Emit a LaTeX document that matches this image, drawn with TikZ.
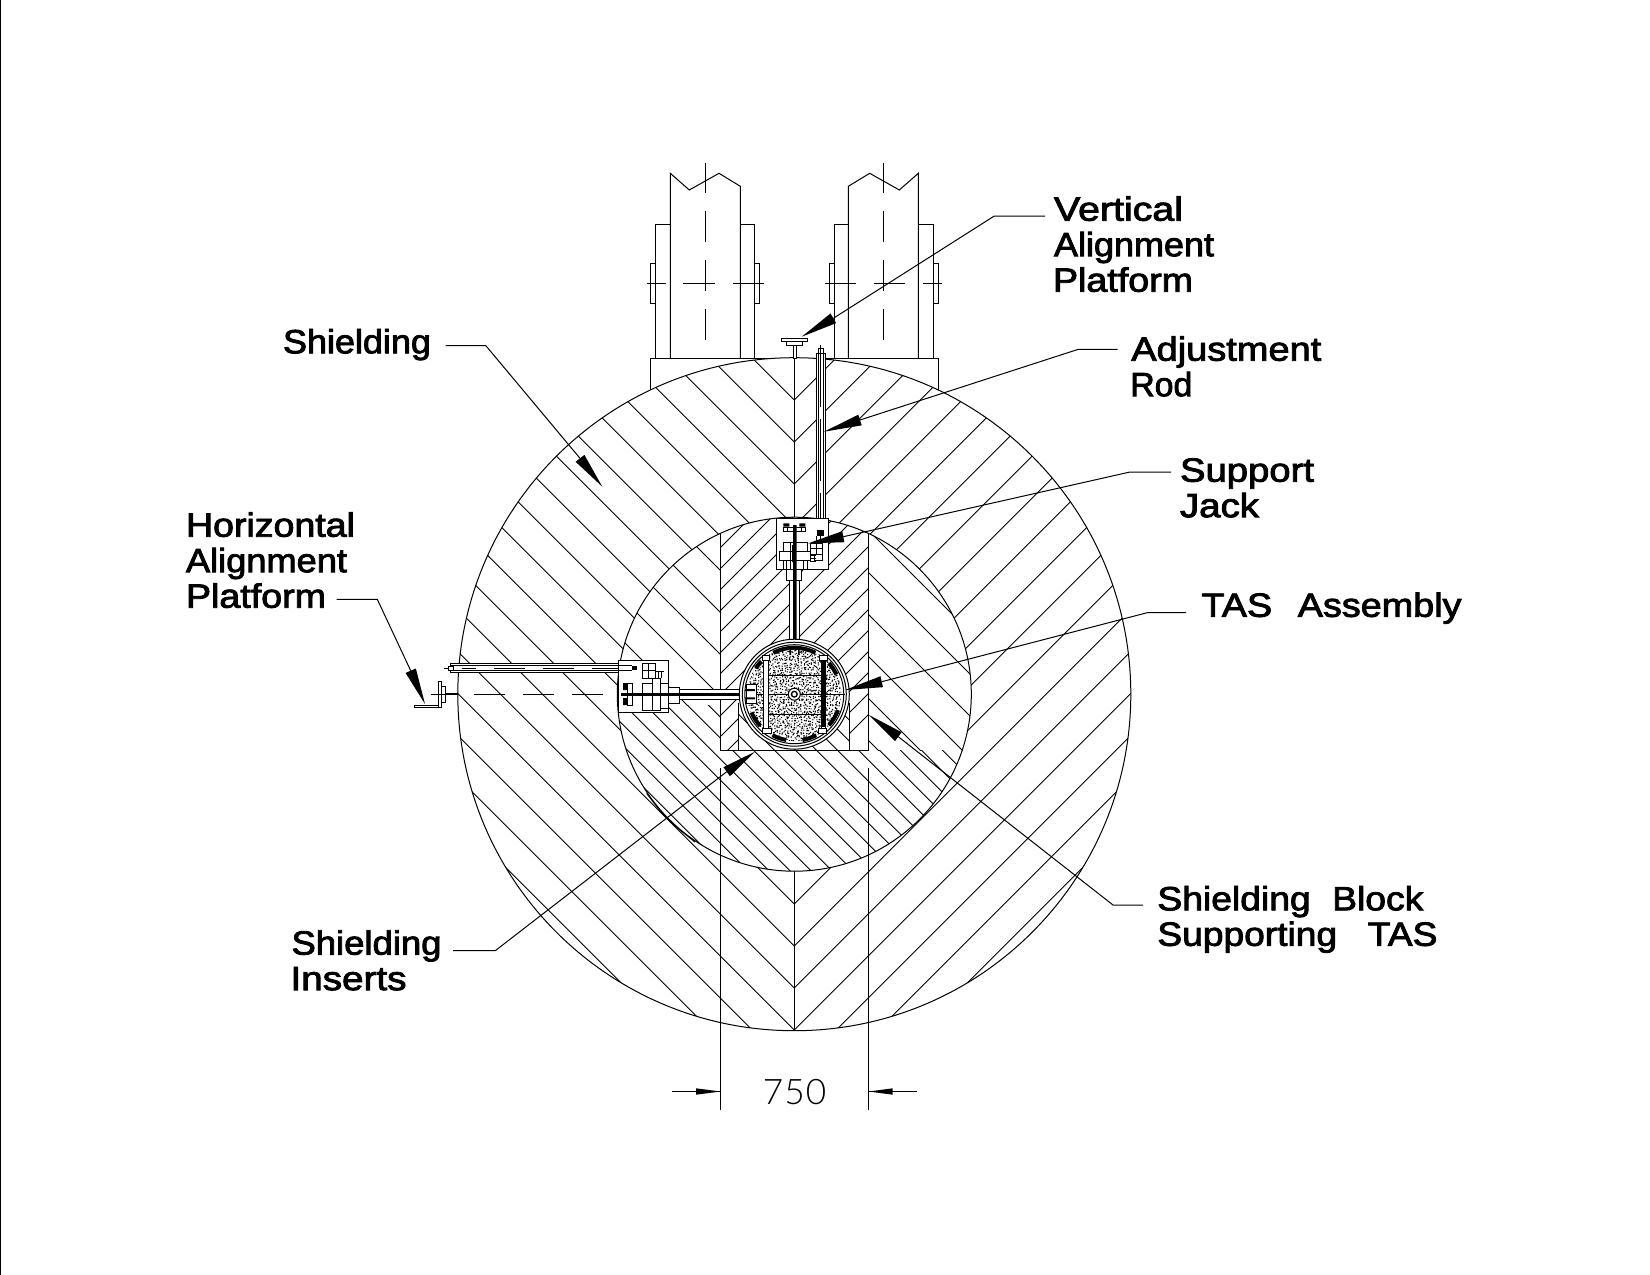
\documentclass[tikz,border=0pt]{standalone}
\usepackage{fontspec}
\usepackage{graphicx}
\usetikzlibrary{calc}
\newfontfamily\lf[RawFeature={embolden=2.4}]{Liberation Sans}
\newfontfamily\dimf{Lato Light}
\newlength\fitlen
\newcommand\fitw[2]{\settowidth\fitlen{\fontsize{16.8}{17}\lf #2}\pgfmathsetmacro\fitr{#1*0.5/\fitlen}\hbox{\scalebox{\fitr}[1]{\fontsize{16.8}{17}\lf #2}}}
\newcommand\lstack[1]{\vtop{\baselineskip=17.75pt \lineskiplimit=-100pt #1}}
\tikzset{
  ln/.style={line width=0.5pt,black},
  part/.style={draw=black,fill=white,line width=0.5pt},
  dk/.style={fill=black},
  hat/.style={line width=0.45pt,black},
  lbl/.style={anchor=base west,inner sep=0pt,outer sep=0pt},
  lead/.style={line width=0.5pt,black},
}
\newcommand\headtri[2]{\fill[black] (#1) -- ($(#2)!2.8pt!90:(#1)$) -- ($(#2)!2.8pt!-90:(#1)$) -- cycle;}
\begin{document}
\begin{tikzpicture}[x=0.5pt,y=-0.5pt]
\useasboundingbox (0,0) rectangle (1650,1275);
\fill[white] (0,0) rectangle (1650,1275);
\fill[black] (0,0) rectangle (1.3,1275);
% left column
\draw[ln] (650.3,263.3) rectangle (655.3,303.3);
\draw[ln] (754.7,263.3) rectangle (759.7,303.3);
\draw[ln] (655.3,358.3) -- (655.3,224.3) -- (670.3,224.3);
\draw[ln] (740.3,224.3) -- (754.7,224.3) -- (754.7,358.3);
\draw[ln] (670.3,358.3) -- (670.3,173.3) -- (689.3,190) -- (719,173.3) -- (740.3,186.3) -- (740.3,358.3);
\draw[ln] (705.7,163.3)--(705.7,192.7) (705.7,211)--(705.7,241.7) (705.7,260)--(705.7,290.7) (705.7,309)--(705.7,340);
\draw[ln] (647,283.3)--(666,283.3) (683,283.3)--(715,283.3) (733,283.3)--(763.7,283.3);
% right column
\draw[ln] (829.3,263.3) rectangle (834.3,303.3);
\draw[ln] (933.3,263.3) rectangle (938.7,303.3);
\draw[ln] (834.3,358.3) -- (834.3,224.3) -- (848.3,224.3);
\draw[ln] (918.3,224.3) -- (933.3,224.3) -- (933.3,358.3);
\draw[ln] (848.3,358.3) -- (848.3,186.3) -- (869.7,173.3) -- (899.3,190) -- (918.3,173.3) -- (918.3,358.3);
\draw[ln] (883.7,163.3)--(883.7,192.7) (883.7,211)--(883.7,241.7) (883.7,260)--(883.7,290.7) (883.7,309)--(883.7,340);
\draw[ln] (825.3,283.3)--(856,283.3) (874,283.3)--(905,283.3) (923,283.3)--(941.7,283.3);
% base
\draw[ln] (650,392) -- (650,358.3) -- (938.7,358.3) -- (938.7,392);
% outer body
\coordinate (ctr) at (794.3,694.2);
\fill[white] (ctr) circle[radius=336.5];
\begin{scope}
  \clip (ctr) circle[radius=336.5];
  \foreach \k in {0,...,19}{
    \pgfmathsetmacro\ay{400+42*\k}
    \draw[hat] (294.3,\ay-500) -- (794.3,\ay) -- (1294.3,\ay-500);
  }
  \draw[ln] (794.3,350) -- (794.3,1040);
\end{scope}
\draw[ln] (ctr) circle[radius=336.5];
\draw[ln] (646.7,793.3) .. controls (666,819) .. (695,842);
% inner body
\fill[white] (ctr) circle[radius=177];
\begin{scope}
  \clip (ctr) circle[radius=177];
  % left of the slot, wide spacing above, close spacing below
  \begin{scope}
    \clip (600,500) rectangle (720.6,705);
    \foreach \k in {-8,...,8}{
      \pgfmathsetmacro\cc{-108+42*\k}
      \draw[hat] (500,500+\cc) -- (1000,1000+\cc);
    }
  \end{scope}
  % right of the slot
  \begin{scope}
    \clip (868.6,500) rectangle (990,750);
    \foreach \k in {-8,...,8}{
      \pgfmathsetmacro\cc{-2+42*\k}
      \draw[hat] (500,500+\cc) -- (1000,1000+\cc);
    }
  \end{scope}
  % below
  \begin{scope}
    \clip (600,705) -- (720.6,705) -- (720.6,750) -- (990,750) -- (990,880) -- (600,880) -- cycle;
    \foreach \k in {-16,...,16}{
      \pgfmathsetmacro\cc{-3.3+21*\k}
      \draw[hat] (500,500+\cc) -- (1000,1000+\cc);
    }
  \end{scope}
  % slot
  \fill[white] (720.6,500) rectangle (868.6,750);
  \begin{scope}
    \clip (720.6,500) rectangle (868.6,750);
    \foreach \k in {-14,...,14}{
      \pgfmathsetmacro\cc{1289+21*\k}
      \draw[hat] (500,\cc-500) -- (1000,\cc-1000);
    }
    % insert
    \fill[white] (738.7,703) rectangle (849.3,750);
    \begin{scope}
      \clip (738.7,703) rectangle (849.3,750);
      \foreach \k in {-8,...,8}{
        \pgfmathsetmacro\cc{-3.3+21*\k}
        \draw[hat] (500,500+\cc) -- (1000,1000+\cc);
      }
    \end{scope}
  \end{scope}
  \draw[ln] (720.6,500) -- (720.6,750) -- (868.6,750) -- (868.6,500);
  \draw[ln] (738.7,703) -- (738.7,750) (849.3,703) -- (849.3,750);
\end{scope}
\draw[ln] (ctr) circle[radius=177];
% extension lines
\coordinate (extLa) at (720.6,768.3);
\coordinate (extLb) at (720.6,1110);
\coordinate (extRa) at (868.6,768.3);
\coordinate (extRb) at (868.6,1110);
\draw[ln] (extLa) -- (extLb);
\draw[ln] (extRa) -- (extRb);
% vertical platform
\draw[part] (781.3,338) rectangle (807.7,341);
\draw[part] (786.3,341) rectangle (802.7,345.7);
\draw[part] (793.3,345.7) rectangle (796,358.3);
% vertical rod
\draw[part] (816.7,353) rectangle (825.7,536);
\draw[ln] (818.3,348) rectangle (823.7,353);
\draw[ln] (818.3,353) -- (818.3,536) (823.7,353) -- (823.7,536);
\draw[ln,dash pattern=on 31pt off 6pt] (820.6,345) -- (820.6,536);
% jack box
\draw[part] (776.5,518.3) rectangle (828.7,569.3);
\draw[part] (786,569.3) rectangle (801.7,580);
\draw[part] (789.3,580) rectangle (799.3,640);
\draw[ln] (810,543) rectangle (816,548) (816,543) rectangle (822,548) (810,548) rectangle (816,554) (816,548) rectangle (822,554) (814,554) rectangle (822,560);
\draw[ln] (816,536) -- (816,543) (820,536) -- (820,543);
\fill[black] (816.5,530) rectangle (823.5,536);
\draw[ln] (810,555) -- (816,555) (810,558) -- (816,558) (810,561) -- (816,561);
\fill[black] (783.3,523.3) rectangle (789.3,526.7) (799.3,523.3) rectangle (805.3,526.7);
\draw[part] (783.3,527.3) rectangle (805,531.7);
\draw[ln] (787,527.3)--(787,531.7) (801,527.3)--(801,531.7);
\draw[part] (783.3,542.3) rectangle (807,551.7);
\draw[part] (779.3,551.7) rectangle (810.7,560);
\draw[part] (783.3,560) rectangle (807,569.3);
\draw[ln] (786,560)--(786,569.3) (803,560)--(803,569.3) (790,542.3)--(790,569.3);
\fill[black] (793,525) rectangle (796.5,645) (792,545) rectangle (796.7,562);
% horizontal bracket
\draw[part] (414.3,705) rectangle (441,707.3);
\draw[part] (438.3,681) rectangle (441,707.3);
\draw[part] (441,686) rectangle (445.7,702.7);
\fill[black] (445.7,692.8) rectangle (458.3,695.2);
\draw[ln] (431,694) -- (445,694);
\draw[ln] (474,694)--(505,694) (523,694)--(554,694) (572,694)--(603,694);
% horizontal rod
\draw[part] (450,663.3) rectangle (635,672.3);
\draw[ln] (450,665.3) -- (635,665.3) (450,670.7) -- (635,670.7);
\draw[ln] (444,668.3) -- (453,668.3) (461.7,668.3)--(476,668.3) (494,668.3)--(525,668.3) (543,668.3)--(574,668.3) (592,668.3)--(623,668.3);
\draw[part] (448,666) rectangle (453,670);
% left jack box
\draw[part] (618.3,660.7) rectangle (668.3,712.7);
\draw[part] (668.3,687) rectangle (679,703);
\draw[part] (679,689.3) rectangle (740,699.3);
\draw[part] (627,683) rectangle (632,705);
\fill[black] (623,683) rectangle (627,690) (623,698) rectangle (627,705);
\draw[part] (642,683) rectangle (652,710);
\draw[part] (652,678) rectangle (660,710);
\draw[part] (660,683) rectangle (668,708);
\draw[ln] (642,663) rectangle (648,670) (648,663) rectangle (655,670) (642,670) rectangle (648,678) (648,670) rectangle (655,678);
\draw[ln] (655,671)--(655,678) (658,671)--(658,678) (661,671)--(661,678) (655,671)--(664,671);
\fill[black] (632,666) rectangle (637,670);
\draw[ln] (618.3,665.3) -- (632,665.3) (618.3,670.7) -- (632,670.7);
\fill[black] (621,692.5) rectangle (745,696);
% TAS
\fill[white] (ctr) circle[radius=55];
\draw[ln] (ctr) circle[radius=55];
\draw[ln] (ctr) circle[radius=52];
\draw[ln] (ctr) circle[radius=49.5];
\begin{scope}
  \clip (ctr) circle[radius=47];
  \pgfmathsetseed{7}
  \fill[black]
  \foreach \ix in {0,...,39}{
    \foreach \iy in {0,...,39}{
      [/utils/exec={\pgfmathsetmacro\dx{747+\ix*2.4+2.2*rnd}\pgfmathsetmacro\dy{647+\iy*2.4+2.2*rnd}}]
      (\dx,\dy) rectangle ++(1.15,1.15)
    }
  };
\end{scope}
\foreach \s/\t in {63/117,25/42,135/146,203/223,242/260,280/298,318/340}{
  \draw[line width=2pt,black] ({794.3+46.5*cos(\s)},{694.2-46.5*sin(\s)}) arc[start angle=-\s,end angle=-\t,radius=46.5];
}
\draw[part] (746.7,684) rectangle (756.7,703);
\fill[black] (745,689) rectangle (755,691) (745,697.3) rectangle (755,699.3);
\fill[black] (789.3,647) rectangle (791,655) (798,647) rectangle (799.7,655);
\draw[ln] (768.3,675) -- (821,675) (756,694.2) -- (845,694.2) (768.3,714.5) -- (821,714.5);
\draw[part] (763.3,657) rectangle (768.3,728);
\draw[part] (762,655) rectangle (769.5,660);
\draw[part] (762.7,728) rectangle (771,733);
\draw[part] (821,657) rectangle (825.7,728);
\fill[black] (822.2,660) rectangle (824.6,727);
\draw[part] (819.5,655) rectangle (827,660);
\draw[part] (818,728) rectangle (826.7,733);
\draw[part] (ctr) circle[radius=6];
\fill[black] (ctr) circle[radius=3.6];
\fill[white] (ctr) circle[radius=2];
% leaders
\coordinate (s1) at (1045,216); \coordinate (k1) at (994.3,216); \coordinate (b1) at (833.3,318.3); \coordinate (t1) at (801.7,336.7);
\coordinate (s2) at (1117.7,349.3); \coordinate (k2) at (1078.3,349.3); \coordinate (b2) at (860,420); \coordinate (t2) at (824,431.7);
\coordinate (s3) at (1171,472); \coordinate (k3) at (1130,472); \coordinate (b3) at (843.3,536.7); \coordinate (t3) at (808.3,543.3);
\coordinate (s4) at (1186,612.5); \coordinate (k4) at (1148,612.5); \coordinate (b4) at (881.7,681.7); \coordinate (t4) at (845,690);
\coordinate (s5) at (1143,905); \coordinate (k5) at (1113,905); \coordinate (b5) at (898.3,736.7); \coordinate (t5) at (869,715);
\coordinate (s6) at (453,950.5); \coordinate (k6) at (495.5,950.5); \coordinate (b6) at (726.7,771.7); \coordinate (t6) at (755,751.7);
\coordinate (s7) at (445.7,345.5); \coordinate (k7) at (485.7,345.5); \coordinate (b7) at (580,458.3); \coordinate (t7) at (602.3,486.7);
\coordinate (s8) at (336.7,599.3); \coordinate (k8) at (377.3,599.3); \coordinate (b8) at (410.7,670.7); \coordinate (t8) at (425,704);
\foreach \n in {1,...,8}{
  \draw[lead] (s\n) -- (k\n) -- (b\n);
  \headtri{t\n}{b\n}
}
% dimension
\coordinate (da) at (672,1091.5); \coordinate (dc) at (720.6,1091.5);
\coordinate (dd) at (868.6,1091.5); \coordinate (df) at (917,1091.5);
\draw[ln] (da) -- (dc);
\draw[ln] (dd) -- (df);
\fill[black] (dc) -- (696,1088.3) -- (696,1094.7) -- cycle;
\fill[black] (dd) -- (892.7,1088.3) -- (892.7,1094.7) -- cycle;
\node[inner sep=0pt,anchor=base] (dimtxt) at (794.6,1104.7) {\fontsize{17.6}{18}\dimf\hbox{7\kern0.5pt5\kern0.5pt0}};
% labels
\node[lbl] (lab1) at (1054,220.7) {\lstack{\fitw{129}{Vertical}\fitw{160}{Alignment}\hbox{\kern-0.5pt\fitw{140}{Platform}}}};
\node[lbl] (lab2) at (1131.3,360.7) {\lstack{\fitw{190}{Adjustment}\hbox{\kern-0.5pt\fitw{62}{Rod}}}};
\node[lbl] (lab3) at (1180,481.7) {\lstack{\fitw{134}{Support}\fitw{79}{Jack}}};
\node[lbl] (lab4) at (1201.5,616.8) {\fitw{260}{TAS\hspace{0.4em} Assembly}};
\node[lbl] (lab5) at (1157.4,910.3) {\lstack{\fitw{266}{Shielding\hspace{0.3em} Block}\fitw{280}{Supporting\hspace{0.55em} TAS}}};
\node[lbl] (lab6) at (291.5,954.6) {\lstack{\fitw{150}{Shielding}\hbox{\kern-0.5pt\fitw{116}{Inserts}}}};
\node[lbl] (lab7) at (283,353.3) {\fitw{148}{Shielding}};
\node[lbl] (lab8) at (186,536.7) {\lstack{\fitw{169}{Horizontal}\fitw{161}{Alignment}\fitw{140}{Platform}}};
\end{tikzpicture}
\end{document}
